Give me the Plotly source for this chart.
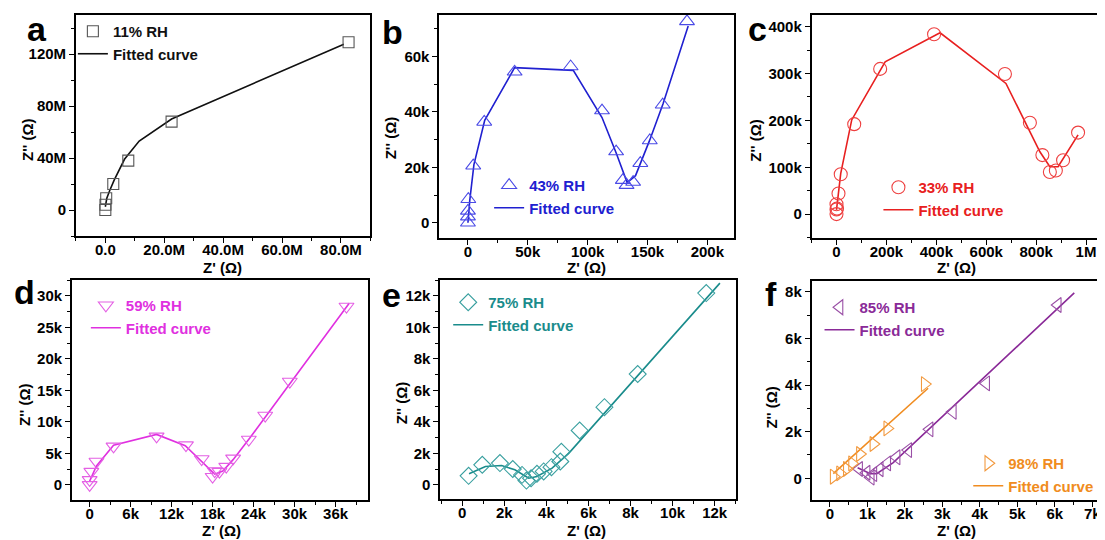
import plotly.graph_objects as go

# ---------------- data ----------------
# (a) 11% RH
a_x = [0, 0.05e6, 0.3e6, 2.7e6, 7.8e6, 22.5e6, 82.6e6]
a_y = [0, 4e6, 9e6, 20e6, 38e6, 68e6, 129e6]
a_fx = [0, 0.5e6, 1.5e6, 3e6, 6.5e6, 11.5e6, 22.5e6, 81e6]
a_fy = [2.5e6, 9e6, 15e6, 23e6, 39e6, 53e6, 70e6, 127.5e6]

# (b) 43% RH
b_x = [0, 0, 0, 300, 4.4e3, 13.6e3, 39e3, 85.8e3, 112e3, 123.8e3, 129.4e3, 132.5e3, 138e3, 144e3, 151.9e3, 162.7e3, 183e3]
b_y = [0, 2.2e3, 4.3e3, 8.5e3, 20.6e3, 36.4e3, 54.5e3, 56.4e3, 40.5e3, 25.7e3, 15.4e3, 13.6e3, 14.7e3, 21.5e3, 29.7e3, 42.6e3, 72.7e3]
b_fx = [0, 1.5e3, 5e3, 14e3, 39e3, 88e3, 112e3, 124e3, 133e3, 140e3, 152e3, 163e3, 184e3]
b_fy = [0, 8e3, 21e3, 37e3, 56e3, 55e3, 38e3, 25e3, 14.5e3, 17e3, 30e3, 43e3, 71e3]

# (c) 33% RH
c_x = [0, 0, 0, 2e3, 8e3, 17e3, 71e3, 175e3, 391e3, 675e3, 775e3, 825e3, 855e3, 879e3, 908e3, 968e3]
c_y = [0, 10e3, 21e3, 12e3, 44e3, 85e3, 192e3, 310e3, 384e3, 299e3, 195e3, 126e3, 90e3, 93e3, 115e3, 174e3]
c_fx = [0, 17e3, 61e3, 195e3, 415e3, 679e3, 815e3, 855e3, 888e3, 968e3]
c_fy = [9e3, 87e3, 201e3, 325e3, 387e3, 279e3, 133e3, 101e3, 101e3, 169e3]

# (d) 59% RH
d_x = [0, 0, 250, 1.0e3, 3.5e3, 9.8e3, 14.1e3, 16.4e3, 18.0e3, 18.3e3, 19.0e3, 20.0e3, 21.0e3, 23.3e3, 25.7e3, 29.3e3, 37.6e3]
d_y = [0, 800, 2.1e3, 3.7e3, 6.1e3, 7.7e3, 6.3e3, 4.1e3, 1.3e3, 2.2e3, 2.1e3, 2.9e3, 4.2e3, 7.2e3, 11.0e3, 16.4e3, 28.3e3]
d_fx = [0, 1e3, 3.5e3, 9.8e3, 14e3, 16.5e3, 18.3e3, 19.5e3, 21e3, 23.5e3, 38e3]
d_fy = [600, 3e3, 6.3e3, 8e3, 6.2e3, 3.5e3, 1.7e3, 2.2e3, 4e3, 7.5e3, 28.8e3]

# (e) 75% RH
e_x = [300, 950, 1790, 2400, 2840, 3050, 3270, 3550, 3870, 4240, 4660, 4710, 5580, 6760, 8340, 11600]
e_y = [570, 1270, 1380, 1000, 630, 270, 420, 700, 850, 1120, 1480, 2100, 3450, 4930, 7030, 12170]
e_fx = [320, 1100, 1870, 2500, 3160, 3550, 4270, 5060, 12250]
e_fy = [700, 1160, 1230, 950, 420, 530, 1060, 2000, 12800]

# (f) 85% RH
f85_x = [780, 980, 1090, 1160, 1330, 1530, 1780, 2090, 2660, 3280, 4170, 6080]
f85_y = [400, 240, 30, 180, 390, 640, 900, 1210, 2100, 2850, 4070, 7430]
f85_fx = [740, 1080, 1250, 1690, 6520]
f85_fy = [450, 200, 200, 670, 7950]

# (f) 98% RH
f98_x = [100, 270, 450, 590, 800, 1160, 1530, 2530]
f98_y = [70, 210, 400, 640, 1040, 1470, 2140, 4040]
f98_fx = [90, 2620]
f98_fy = [200, 3860]

# tick labels
a_xt = [0, 20e6, 40e6, 60e6, 80e6]; a_xl = ["0.0", "20.0M", "40.0M", "60.0M", "80.0M"]
a_yt = [0, 40e6, 80e6, 120e6]; a_yl = ["0", "40M", "80M", "120M"]
b_xt = [0, 50e3, 100e3, 150e3, 200e3]; b_xl = ["0", "50k", "100k", "150k", "200k"]
b_yt = [0, 20e3, 40e3, 60e3]; b_yl = ["0", "20k", "40k", "60k"]
c_xt = [0, 200e3, 400e3, 600e3, 800e3, 1e6]; c_xl = ["0", "200k", "400k", "600k", "800k", "1M"]
c_yt = [0, 100e3, 200e3, 300e3, 400e3]; c_yl = ["0", "100k", "200k", "300k", "400k"]
d_xt = [0, 6e3, 12e3, 18e3, 24e3, 30e3, 36e3]; d_xl = ["0", "6k", "12k", "18k", "24k", "30k", "36k"]
d_yt = [0, 5e3, 10e3, 15e3, 20e3, 25e3, 30e3]; d_yl = ["0", "5k", "10k", "15k", "20k", "25k", "30k"]
e_xt = [0, 2e3, 4e3, 6e3, 8e3, 10e3, 12e3]; e_xl = ["0", "2k", "4k", "6k", "8k", "10k", "12k"]
e_yt = [0, 2e3, 4e3, 6e3, 8e3, 10e3, 12e3]; e_yl = ["0", "2k", "4k", "6k", "8k", "10k", "12k"]
f_xt = [0, 1e3, 2e3, 3e3, 4e3, 5e3, 6e3, 7e3]; f_xl = ["0", "1k", "2k", "3k", "4k", "5k", "6k", "7k"]
f_yt = [0, 2e3, 4e3, 6e3, 8e3]; f_yl = ["0", "2k", "4k", "6k", "8k"]

# ---------------- figure ----------------
W, H = 1105, 540
OFF = 8  # page body margin
FONT = "Liberation Sans, Arial, sans-serif"

fig = go.Figure()

def px_x(p):
    return min(1.0, (p - OFF) / W)

def px_y(p):
    return min(1.0, max(0.0, 1 - (p - OFF) / H))

panels = [
    ("", (76, 371), (15, 236), [-10e6, 90e6], [-20e6, 150e6], a_xt, a_xl, 10e6, a_yt, a_yl, 20e6),
    ("2", (440, 735), (15, 238), [-24e3, 222e3], [-5.5e3, 75e3], b_xt, b_xl, 25e3, b_yt, b_yl, 10e3),
    ("3", (813, 1113), (15, 238), [-100e3, 1.1e6], [-51e3, 425e3], c_xt, c_xl, 100e3, c_yt, c_yl, 50e3),
    ("4", (72, 369), (280, 500), [-2.6e3, 40.8e3], [-2.4e3, 32.5e3], d_xt, d_xl, 3e3, d_yt, d_yl, 2.5e3),
    ("5", (441, 737), (280, 499), [-1.05e3, 13e3], [-0.9e3, 13e3], e_xt, e_xl, 1e3, e_yt, e_yl, 1e3),
    ("6", (813, 1113), (281, 500), [-0.49e3, 7.5e3], [-0.93e3, 8.46e3], f_xt, f_xl, 0.5e3, f_yt, f_yl, 1e3),
]

tickfont = dict(family=FONT, size=15, color="black", weight="bold")

for name, xd, yd, xr, yr, xt, xl, xm, yt, yl, ym in panels:
    common = dict(showline=True, linecolor="black", linewidth=1.5, mirror=True,
                  ticks="outside", ticklen=5, tickwidth=1.3, tickcolor="black",
                  showgrid=False, zeroline=False, tickfont=tickfont)
    fig.layout["xaxis" + name] = dict(
        domain=[px_x(xd[0]), px_x(xd[1])], range=xr, tickvals=xt, ticktext=xl,
        anchor="y" + name, ticklabelstandoff=-6,
        minor=dict(dtick=xm, tick0=0, ticks="outside", ticklen=3, tickcolor="black", showgrid=False),
        **common)
    fig.layout["yaxis" + name] = dict(
        domain=[px_y(yd[1]), px_y(yd[0])], range=yr, tickvals=yt, ticktext=yl,
        anchor="x" + name,
        minor=dict(dtick=ym, tick0=0, ticks="outside", ticklen=3, tickcolor="black", showgrid=False),
        **common)

series = [
    ("x", "y", a_x, a_y, a_fx, a_fy, "square-open", "#555555", "#111111", "11% RH", "legend", 11),
    ("x2", "y2", b_x, b_y, b_fx, b_fy, "triangle-up-open", "#4a4ae6", "#2020d0", "43% RH", "legend2", 13),
    ("x3", "y3", c_x, c_y, c_fx, c_fy, "circle-open", "#ee4040", "#e82020", "33% RH", "legend3", 13),
    ("x4", "y4", d_x, d_y, d_fx, d_fy, "triangle-down-open", "#e460e4", "#e030e0", "59% RH", "legend4", 13),
    ("x5", "y5", e_x, e_y, e_fx, e_fy, "diamond-open", "#3aa0a0", "#1a8c8c", "75% RH", "legend5", 13),
    ("x6", "y6", f85_x, f85_y, f85_fx, f85_fy, "triangle-left-open", "#9a50a6", "#8a2a98", "85% RH", "legend6", 13),
    ("x6", "y6", f98_x, f98_y, f98_fx, f98_fy, "triangle-right-open", "#f29a40", "#f08c20", "98% RH", "legend7", 13),
]

for xa, ya, dx, dy, fx, fy, sym, mc, lc, lab, lg, ms in series:
    fig.add_trace(go.Scatter(x=fx, y=fy, mode="lines", xaxis=xa, yaxis=ya,
                             line=dict(color=lc, width=1.6), name="Fitted curve",
                             legend=lg, legendrank=2))
    fig.add_trace(go.Scatter(x=dx, y=dy, mode="markers", xaxis=xa, yaxis=ya,
                             marker=dict(symbol=sym, size=ms, color=mc, line=dict(width=1.1, color=mc)),
                             name=lab, legend=lg, legendrank=1))

# legend top-left corners in page pixels
legend_pos = {
    "legend": (73, 15, "#111111"),
    "legend2": (490, 169, "#2020d0"),
    "legend3": (880, 171, "#e82020"),
    "legend4": (86, 289, "#e030e0"),
    "legend5": (449, 286, "#1a8c8c"),
    "legend6": (821, 291, "#8a2a98"),
    "legend7": (970, 447, "#f08c20"),
}
for key, (lx, ly, col) in legend_pos.items():
    fig.layout[key] = dict(x=px_x(lx), y=px_y(ly), xanchor="left", yanchor="top",
                           xref="paper", yref="paper",
                           bgcolor="rgba(0,0,0,0)", borderwidth=0,
                           font=dict(family=FONT, size=15, color=col, weight="bold"),
                           itemwidth=30, tracegroupgap=0, traceorder="normal")

annotations = []
# panel letters: (text, x center, y, yanchor) in page pixels
letters = [("a", 37, 8, "top"), ("b", 393, 32, "middle"), ("c", 759, 8, "top"),
           ("d", 25, 292, "middle"), ("e", 392, 295, "middle"), ("f", 772, 294, "middle")]
for t, x, y, ya in letters:
    annotations.append(dict(text=t, x=px_x(x), y=px_y(y), xref="paper", yref="paper",
                            showarrow=False, xanchor="center", yanchor=ya,
                            font=dict(family=FONT, size=34, color="black", weight="bold")))

xtitles = [(223, 268), (588, 268), (958, 268), (222, 530), (588, 530), (958, 530)]
for x, y in xtitles:
    annotations.append(dict(text="Z' (Ω)", x=px_x(x), y=px_y(y), xref="paper", yref="paper",
                            showarrow=False, xanchor="center", yanchor="middle",
                            font=dict(family=FONT, size=15, color="black", weight="bold")))
ytitles = [(27, 140), (392, 138), (757, 141), (24, 405), (402, 403), (772, 408)]
for x, y in ytitles:
    annotations.append(dict(text="Z'' (Ω)", x=px_x(x), y=px_y(y), xref="paper", yref="paper",
                            showarrow=False, xanchor="center", yanchor="middle", textangle=-90,
                            font=dict(family=FONT, size=15, color="black", weight="bold")))

fig.update_layout(width=W, height=H, margin=dict(l=0, r=0, t=0, b=0),
                  paper_bgcolor="white", plot_bgcolor="white",
                  annotations=annotations, showlegend=True)

fig.write_html("out.html")
